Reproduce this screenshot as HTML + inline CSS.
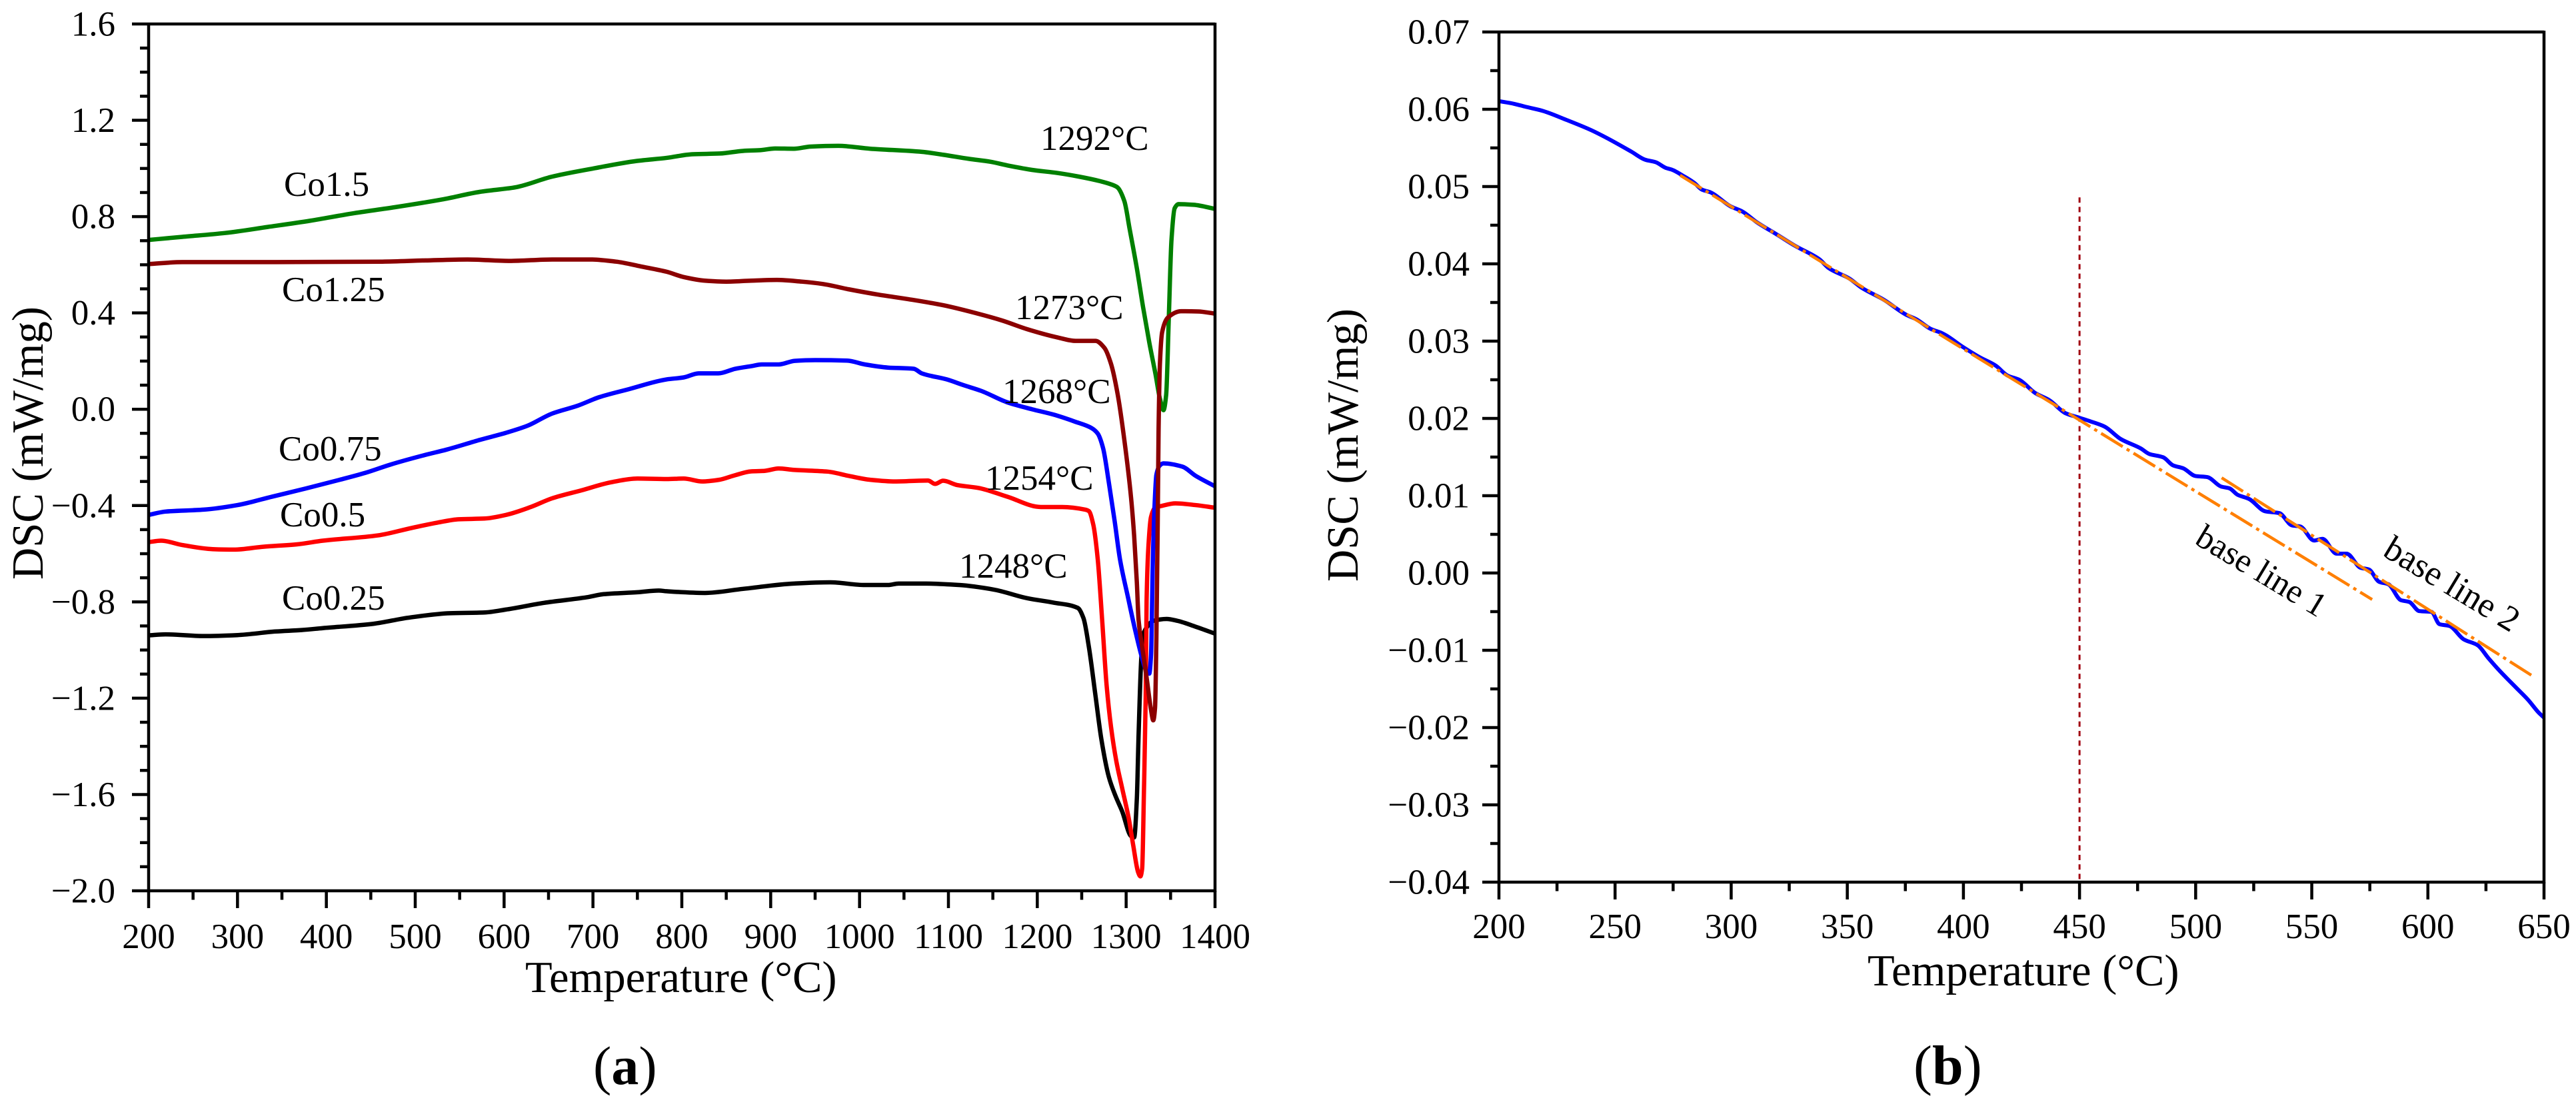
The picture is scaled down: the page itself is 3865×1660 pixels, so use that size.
<!DOCTYPE html>
<html lang="en">
<head>
<meta charset="utf-8">
<title>DSC curves</title>
<style>
html,body{margin:0;padding:0;background:#fff;width:3865px;height:1660px;overflow:hidden}
svg{display:block}
text{font-family:"Liberation Serif",serif;fill:#000}
</style>
</head>
<body>
<svg id="figure" xmlns="http://www.w3.org/2000/svg" width="3865" height="1660" viewBox="0 0 3865 1660">
  <rect x="0" y="0" width="3865" height="1660" fill="#fff"/>
  <g id="panel-a">
    <g id="a-series"></g>
    <g id="a-axes"></g>
    <text x="788" y="1489" font-size="66.6">Temperature (°C)</text>
    <text transform="translate(64,665) rotate(-90)" text-anchor="middle" font-size="66.8">DSC (mW/mg)</text>
    <text x="426" y="294" font-size="53">Co1.5</text>
    <text x="423" y="452" font-size="53">Co1.25</text>
    <text x="418" y="691" font-size="53">Co0.75</text>
    <text x="420" y="790" font-size="53">Co0.5</text>
    <text x="423" y="915" font-size="53">Co0.25</text>
    <text x="1561" y="225" font-size="53">1292°C</text>
    <text x="1523" y="479" font-size="53">1273°C</text>
    <text x="1504" y="605" font-size="53">1268°C</text>
    <text x="1478" y="735" font-size="53">1254°C</text>
    <text x="1439" y="867" font-size="53">1248°C</text>
    <text x="890" y="1627" font-size="82">(<tspan font-weight="bold">a</tspan>)</text>
  </g>
  <g id="panel-b">
    <g id="b-series"></g>
    <g id="b-axes"></g>
    <text x="2802" y="1479" font-size="66.6">Temperature (°C)</text>
    <text transform="translate(2037,668) rotate(-90)" text-anchor="middle" font-size="66.8">DSC (mW/mg)</text>
    <text transform="translate(3291,815) rotate(31)" font-size="51">base line 1</text>
    <text transform="translate(3573,833) rotate(31)" font-size="53">base line 2</text>
    <text x="2871" y="1627" font-size="84">(<tspan font-weight="bold">b</tspan>)</text>
  </g>
</svg>
<script>
// ---------- Panel (a) data ----------
const co15T = [200,238,286,334,382,429,477,530,573,613,654,702,749,783,812,843,869,888,905,926,945,976,1012,1070,1094,1123,1147,1166,1194,1223,1247,1271,1283,1290,1298,1304,1312,1319,1326,1333,1338,1342,1345,1348,1351,1354.6,1359,1376,1400];
const co15V = [0.703,0.716,0.732,0.757,0.783,0.813,0.839,0.871,0.903,0.922,0.966,1.001,1.031,1.044,1.059,1.062,1.073,1.076,1.083,1.082,1.091,1.094,1.082,1.069,1.057,1.04,1.028,1.013,0.994,0.981,0.966,0.947,0.934,0.922,0.864,0.747,0.586,0.425,0.278,0.146,0.044,-0.004,0.059,0.381,0.703,0.835,0.852,0.849,0.832];
const co125T = [200,238,343,463,511,559,606,654,697,726,754,783,802,826,850,878,907,935,959,988,1021,1055,1094,1132,1160,1189,1223,1243,1265.5,1275.5,1283,1290.5,1298,1305.5,1309,1312,1314,1318,1323,1328,1330.5,1332.5,1334,1335.5,1336.5,1338,1340.5,1347,1362,1381,1400];
const co125V = [0.603,0.611,0.611,0.613,0.618,0.622,0.616,0.622,0.622,0.613,0.593,0.571,0.549,0.534,0.53,0.534,0.537,0.53,0.52,0.498,0.476,0.457,0.432,0.398,0.369,0.332,0.298,0.284,0.284,0.255,0.188,0.061,-0.129,-0.367,-0.526,-0.717,-0.876,-0.987,-1.114,-1.249,-1.292,-1.24,-0.955,-0.479,-0.082,0.188,0.32,0.381,0.407,0.406,0.397];
const co075T = [200,219,262,300,339,377,415,444,472,511,535,573,602,626,654,683,707,740,783,802,819,841,860,878,890,909,927,950,986,1006,1032,1061,1070,1098,1117,1137,1166,1194,1218,1242,1261,1268,1274,1280.5,1287,1293,1302,1310.5,1318,1323,1326,1328,1330,1332,1334,1338,1342,1363,1378,1400];
const co075V = [-0.439,-0.425,-0.417,-0.398,-0.363,-0.329,-0.293,-0.264,-0.23,-0.19,-0.168,-0.127,-0.098,-0.069,-0.018,0.015,0.05,0.083,0.124,0.132,0.149,0.149,0.168,0.179,0.186,0.186,0.201,0.204,0.202,0.186,0.173,0.168,0.149,0.124,0.1,0.076,0.029,0,-0.022,-0.051,-0.078,-0.101,-0.161,-0.304,-0.463,-0.622,-0.78,-0.923,-1.034,-1.09,-1.098,-1.02,-0.637,-0.4,-0.273,-0.233,-0.225,-0.238,-0.276,-0.32];
const co05T = [200,214,238,272,296,329,367,396,458,496,525,549,578,602,630,654,687,721,750,783,802,823,842,859,878,893,909,926,964,988,1012,1040,1077,1085,1094,1110,1134,1166,1204,1228,1254,1258,1263,1268,1273,1278,1283,1289,1295.5,1303,1308,1313.5,1316,1318,1320,1322,1323,1325,1328,1333,1338,1355.5,1378,1400];
const co05V = [-0.552,-0.546,-0.564,-0.581,-0.583,-0.571,-0.561,-0.546,-0.524,-0.493,-0.471,-0.457,-0.454,-0.439,-0.406,-0.37,-0.337,-0.303,-0.288,-0.29,-0.288,-0.3,-0.293,-0.275,-0.258,-0.256,-0.246,-0.252,-0.259,-0.277,-0.293,-0.3,-0.296,-0.31,-0.297,-0.315,-0.327,-0.363,-0.406,-0.406,-0.417,-0.423,-0.479,-0.622,-0.876,-1.146,-1.32,-1.463,-1.574,-1.701,-1.812,-1.923,-1.94,-1.908,-1.59,-1.193,-0.796,-0.574,-0.447,-0.407,-0.403,-0.391,-0.398,-0.409];
const co025T = [200,219,262,300,343,372,396,453,492,539,578,602,645,693,712,750,774,783,826,869,926,967,1006,1032,1044,1075,1112,1151,1189,1218,1245.5,1252,1258,1265.5,1272,1280.5,1288,1295.5,1305.5,1309,1312,1314,1317,1319,1323,1330.5,1345.5,1358,1378,1400];
const co025V = [-0.939,-0.935,-0.942,-0.938,-0.923,-0.917,-0.909,-0.891,-0.866,-0.847,-0.844,-0.832,-0.804,-0.781,-0.768,-0.76,-0.753,-0.756,-0.763,-0.746,-0.724,-0.719,-0.73,-0.73,-0.724,-0.724,-0.73,-0.749,-0.785,-0.803,-0.825,-0.868,-0.986,-1.19,-1.368,-1.527,-1.606,-1.67,-1.773,-1.778,-1.62,-1.352,-1.035,-0.94,-0.907,-0.879,-0.871,-0.879,-0.903,-0.932];
const aXMajorTicks = [200,300,400,500,600,700,800,900,1000,1100,1200,1300,1400];
const aXMinorTicks = [250,350,450,550,650,750,850,950,1050,1150,1250,1350];
const aYMajorTicks = [1.6,1.2,0.8,0.4,0,-0.4,-0.8,-1.2,-1.6,-2.0];
const aYMinorTicks = [1.5,1.4,1.3,1.1,1.0,0.9,0.7,0.6,0.5,0.3,0.2,0.1,-0.1,-0.2,-0.3,-0.5,-0.6,-0.7,-0.9,-1.0,-1.1,-1.3,-1.4,-1.5,-1.7,-1.8,-1.9];
const aYTickLabels = ["1.6","1.2","0.8","0.4","0.0","\u22120.4","\u22120.8","\u22121.2","\u22121.6","\u22122.0"];

// ---------- Panel (b) data ----------
const curveT = [200,206.6,211.8,218.8,229,239.7,246.6,257,263,267.5,271.8,274.4,279.7,284,287.5,291,299.7,304.9,311,319.7,327.5,338,342,351,356,365.8,375.3,379.7,385.8,391,400,406.9,413.9,419,424,431,437,444,450,454.7,460.8,467.7,476.4,479.9,486,490.3,494.6,499.9,505,511,514.6,518,523,530,536,541.5,545,551,554.6,560.7,565,571,574.6,579,583,588.4,592,596.3,601.5,605,609.3,615.4,621.5,625.9,631,638,643.2,647.6,650];
const curveV = [0.06105,0.0607,0.0603,0.0598,0.05863,0.0573,0.05626,0.05452,0.05347,0.05315,0.05242,0.05219,0.05132,0.0505,0.04959,0.04927,0.04744,0.04676,0.04539,0.04379,0.04233,0.04059,0.03945,0.03808,0.03694,0.03534,0.03342,0.03283,0.0316,0.031,0.0292,0.02793,0.02683,0.02555,0.025,0.02327,0.02236,0.02067,0.02008,0.01962,0.01894,0.01734,0.01611,0.01542,0.01497,0.01392,0.01355,0.01255,0.01241,0.01118,0.01095,0.01013,0.00958,0.00798,0.00775,0.00616,0.00602,0.0042,0.00442,0.0025,0.0025,0.00068,0.00045,-0.00114,-0.00146,-0.00352,-0.00375,-0.00493,-0.00503,-0.00662,-0.00685,-0.00858,-0.00936,-0.01096,-0.01269,-0.01484,-0.01643,-0.01803,-0.01871];
const baseLine1T = [278,576];
const baseLine1V = [0.05146,-0.00343];
const baseLine2T = [511.2,645.8];
const baseLine2V = [0.01232,-0.01347];
const markerT = [450,450];
const markerV = [0.0486,-0.04];
const bXMajorTicks = [200,250,300,350,400,450,500,550,600,650];
const bXMinorTicks = [225,275,325,375,425,475,525,575,625];
const bYMajorTicks = [0.07,0.06,0.05,0.04,0.03,0.02,0.01,0,-0.01,-0.02,-0.03,-0.04];
const bYMinorTicks = [0.065,0.055,0.045,0.035,0.025,0.015,0.005,-0.005,-0.015,-0.025,-0.035];
const bYTickLabels = ["0.07","0.06","0.05","0.04","0.03","0.02","0.01","0.00","\u22120.01","\u22120.02","\u22120.03","\u22120.04"];

// ---------- Helpers ----------
const NS = 'http://www.w3.org/2000/svg';
function axisFn(d0, d1, p0, p1) {
  return function (v) { return p0 + (v - d0) * (p1 - p0) / (d1 - d0); };
}
function drawSeg(parent, x1, y1, x2, y2, w, name) {
  const el = document.createElementNS(NS, 'line');
  el.setAttribute('x1', x1);
  el.setAttribute('y1', y1);
  el.setAttribute('x2', x2);
  el.setAttribute('y2', y2);
  el.setAttribute('stroke', '#000');
  el.setAttribute('stroke-width', w);
  
  
  parent.appendChild(el);
}
function drawLabel(parent, x, y, anchor, str, size, name) {
  const el = document.createElementNS(NS, 'text');
  el.setAttribute('x', x);
  el.setAttribute('y', y);
  el.setAttribute('text-anchor', anchor);
  el.setAttribute('font-size', size);
  
  
  el.textContent = str;
  parent.appendChild(el);
}
// Monotone cubic (Fritsch-Carlson) path through the data points, no overshoot at dips
function smoothPath(px, py) {
  const n = px.length;
  if (n < 3) return 'M' + px[0] + ' ' + py[0] + 'L' + px[n - 1] + ' ' + py[n - 1];
  const d = [], m = [];
  for (let i = 0; i < n - 1; i++) d.push((py[i + 1] - py[i]) / (px[i + 1] - px[i]));
  m.push(d[0]);
  for (let i = 1; i < n - 1; i++) {
    if (d[i - 1] * d[i] <= 0) { m.push(0); continue; }
    const h0 = px[i] - px[i - 1], h1 = px[i + 1] - px[i];
    const w1 = 2 * h1 + h0, w2 = h1 + 2 * h0;
    m.push((w1 + w2) / (w1 / d[i - 1] + w2 / d[i]));
  }
  m.push(d[n - 2]);
  let out = 'M' + px[0].toFixed(2) + ' ' + py[0].toFixed(2);
  for (let i = 0; i < n - 1; i++) {
    const h = (px[i + 1] - px[i]) / 3;
    out += 'C' + (px[i] + h).toFixed(2) + ' ' + (py[i] + m[i] * h).toFixed(2) + ' ' +
      (px[i + 1] - h).toFixed(2) + ' ' + (py[i + 1] - m[i + 1] * h).toFixed(2) + ' ' +
      px[i + 1].toFixed(2) + ' ' + py[i + 1].toFixed(2);
  }
  return out;
}
function drawCurve(parent, xs, ys, fx, fy, color, w, dash, smooth, name) {
  const el = document.createElementNS(NS, 'path');
  const px = xs.map(fx);
  const py = ys.map(fy);
  let d;
  if (smooth) {
    d = smoothPath(px, py);
  } else {
    d = 'M' + px.map(function (x, i) { return x.toFixed(2) + ' ' + py[i].toFixed(2); }).join('L');
  }
  el.setAttribute('d', d);
  el.setAttribute('fill', 'none');
  el.setAttribute('stroke', color);
  el.setAttribute('stroke-width', w);
  el.setAttribute('stroke-linejoin', 'round');
  if (dash) el.setAttribute('stroke-dasharray', dash);
  
  
  parent.appendChild(el);
}
function drawAxes(g, fx, fy, box, cfg) {
  drawSeg(g, box.l, box.t, box.r, box.t, 4.5, 'top-border');
  drawSeg(g, box.r, box.t - 2, box.r, box.b + 2, 4.5, 'right-border');
  drawSeg(g, box.l, box.t - 2, box.l, box.b + 2, 4.5, 'y-axis-line');
  drawSeg(g, box.l, box.b, box.r, box.b, 4.5, 'x-axis-line');
  cfg.xMajor.forEach(function (v) {
    drawSeg(g, fx(v), box.b, fx(v), box.b + 26, 4.5, 'x-major-tick');
    drawLabel(g, fx(v), cfg.xLabelY, 'middle', String(v), 53, 'x-tick-label');
  });
  cfg.xMinor.forEach(function (v) {
    drawSeg(g, fx(v), box.b, fx(v), box.b + 13.5, 4.5, 'x-minor-tick');
  });
  cfg.yMajor.forEach(function (v, i) {
    drawSeg(g, box.l - 25, fy(v), box.l, fy(v), 4.5, 'y-major-tick');
    drawLabel(g, cfg.yLabelX, fy(v) + 17.5, 'end', cfg.yLabels[i], 53, 'y-tick-label');
  });
  cfg.yMinor.forEach(function (v) {
    drawSeg(g, box.l - 13, fy(v), box.l, fy(v), 4.5, 'y-minor-tick');
  });
}

// ---------- Panel (a) ----------
const ax = axisFn(200, 1400, 223, 1823);
const ay = axisFn(-2.0, 1.6, 1337, 36);
const aSeries = document.getElementById('a-series');
drawCurve(aSeries, co025T, co025V, ax, ay, '#000000', 6.5, null, true, 'series-co0-25');
drawCurve(aSeries, co05T, co05V, ax, ay, '#ff0000', 6.5, null, true, 'series-co0-5');
drawCurve(aSeries, co075T, co075V, ax, ay, '#0000ff', 6.5, null, true, 'series-co0-75');
drawCurve(aSeries, co15T, co15V, ax, ay, '#008000', 6.5, null, true, 'series-co1-5');
drawCurve(aSeries, co125T, co125V, ax, ay, '#8b0000', 6.5, null, true, 'series-co1-25');
drawAxes(document.getElementById('a-axes'), ax, ay, {l: 223, r: 1823, t: 36, b: 1337}, {
  xMajor: aXMajorTicks, xMinor: aXMinorTicks, yMajor: aYMajorTicks, yMinor: aYMinorTicks,
  yLabels: aYTickLabels, xLabelY: 1423, yLabelX: 173
});

// ---------- Panel (b) ----------
const bx = axisFn(200, 650, 2249, 3817);
const by = axisFn(-0.04, 0.07, 1324, 48);
const bSeries = document.getElementById('b-series');
drawCurve(bSeries, markerT, markerV, bx, by, '#a00010', 3, '8 6.3', false, 'transition-marker-450');
drawCurve(bSeries, curveT, curveV, bx, by, '#0000ff', 6, null, true, 'dsc-curve');
drawCurve(bSeries, baseLine1T, baseLine1V, bx, by, '#ff7f00', 4.5, '38 7 5 7', false, 'base-line-1');
drawCurve(bSeries, baseLine2T, baseLine2V, bx, by, '#ff7f00', 4.5, '38 7 5 7', false, 'base-line-2');
drawAxes(document.getElementById('b-axes'), bx, by, {l: 2249, r: 3817, t: 48, b: 1324}, {
  xMajor: bXMajorTicks, xMinor: bXMinorTicks, yMajor: bYMajorTicks, yMinor: bYMinorTicks,
  yLabels: bYTickLabels, xLabelY: 1408, yLabelX: 2205
});
</script>
</body>
</html>
